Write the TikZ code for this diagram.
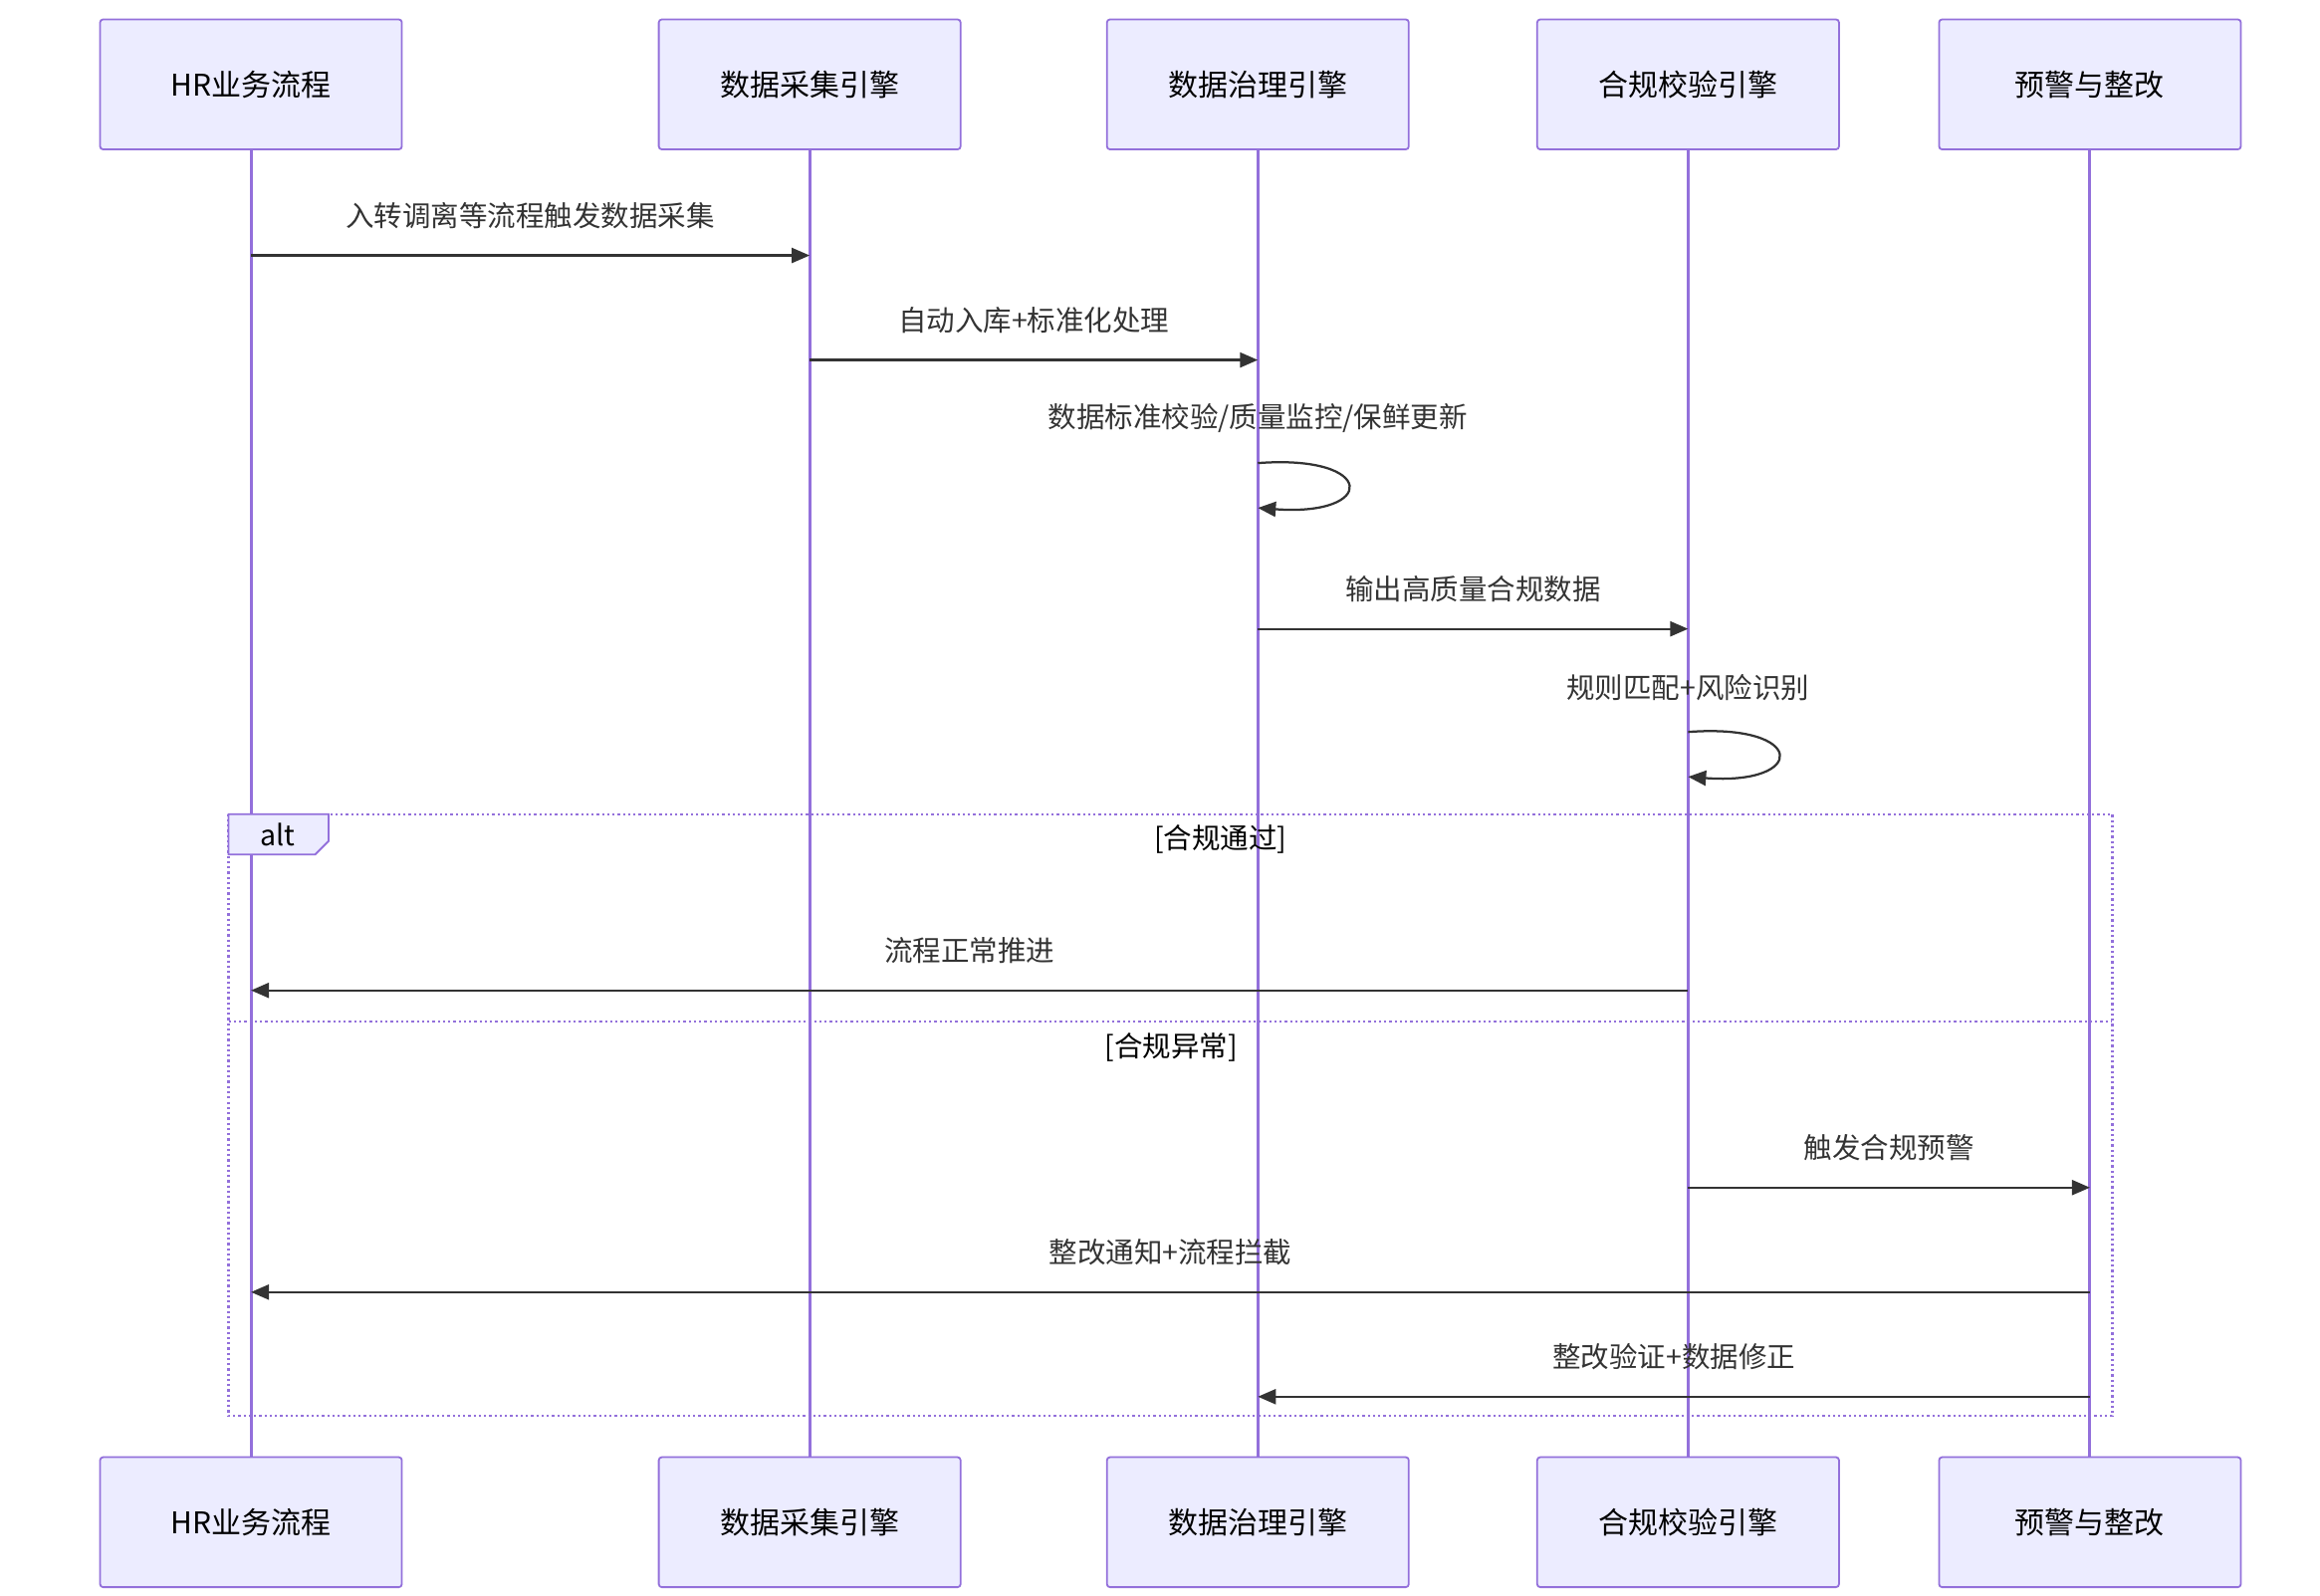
\documentclass[tikz,border=0pt]{standalone}
\usepackage{fontspec}
\setmainfont{Noto Sans CJK SC}
\usetikzlibrary{arrows.meta}
\definecolor{actfill}{HTML}{ECECFF}
\definecolor{actline}{HTML}{9370DB}
\definecolor{ink}{HTML}{333333}
\begin{document}
\begin{tikzpicture}[x=1pt,y=-1pt,
  actor/.style={draw=actline,fill=actfill,line width=1.2pt,rounded corners=2pt,minimum width=202pt,minimum height=87pt,font=\fontsize{20}{24}\selectfont,text=black},
  life/.style={actline,line width=2pt},
  msg/.style={ink,line width=1.5pt,-{Triangle[length=12pt,width=10pt]}},
  lbl/.style={font=\fontsize{19}{22}\selectfont,text=ink},
  frame/.style={actline,line width=1.5pt,dotted}]
\useasboundingbox (0,0) rectangle (1553,1068);
\foreach \n/\x/\t in {a/168/HR业务流程,b/542/数据采集引擎,c/842/数据治理引擎,d/1130/合规校验引擎,e/1399/预警与整改}{
  \draw[life] (\x,100) -- (\x,976);
  \node[actor] (\n top) at (\x,56.5) {\t};
  \node[actor] (\n bot) at (\x,1019) {\t};
}
\foreach \n/\x in {a/168,b/542,c/842,d/1130,e/1399}{
  \foreach \y in {171,241,310,340,421,490,520,663,795,865,935}{\coordinate (\n\y) at (\x,\y);}
}
\draw[msg] (a171) -- (b171) node[lbl,midway,above=14pt] {入转调离等流程触发数据采集};
\draw[msg] (b241) -- (c241) node[lbl,midway,above=14pt] {自动入库+标准化处理};
\node[lbl] at (842,280) {数据标准校验/质量监控/保鲜更新};
\draw[msg] (c310) .. controls +(80,-6) and +(80,6) .. (c340);
\draw[msg] (c421) -- (d421) node[lbl,midway,above=14pt] {输出高质量合规数据};
\node[lbl] at (1130,460) {规则匹配+风险识别};
\draw[msg] (d490) .. controls +(80,-6) and +(80,6) .. (d520);
\draw[frame] (153,545) rectangle (1414,948);
\draw[frame] (153,684) -- (1414,684);
\draw[actline,fill=actfill,line width=1.2pt] (153,545) -- (220,545) -- (220,563) -- (211,572) -- (153,572) -- cycle;
\node[font=\fontsize{19}{22}\selectfont,text=black] at (186,559) {alt};
\node[font=\fontsize{19}{22}\selectfont,text=black] at (817,562) {[合规通过]};
\node[font=\fontsize{19}{22}\selectfont,text=black] at (784,701) {[合规异常]};
\draw[msg] (d663) -- (a663) node[lbl,midway,above=14pt] {流程正常推进};
\draw[msg] (d795) -- (e795) node[lbl,midway,above=14pt] {触发合规预警};
\draw[msg] (e865) -- (a865) node[lbl,midway,above=14pt] {整改通知+流程拦截};
\draw[msg] (e935) -- (c935) node[lbl,midway,above=14pt] {整改验证+数据修正};
\end{tikzpicture}
\end{document}
